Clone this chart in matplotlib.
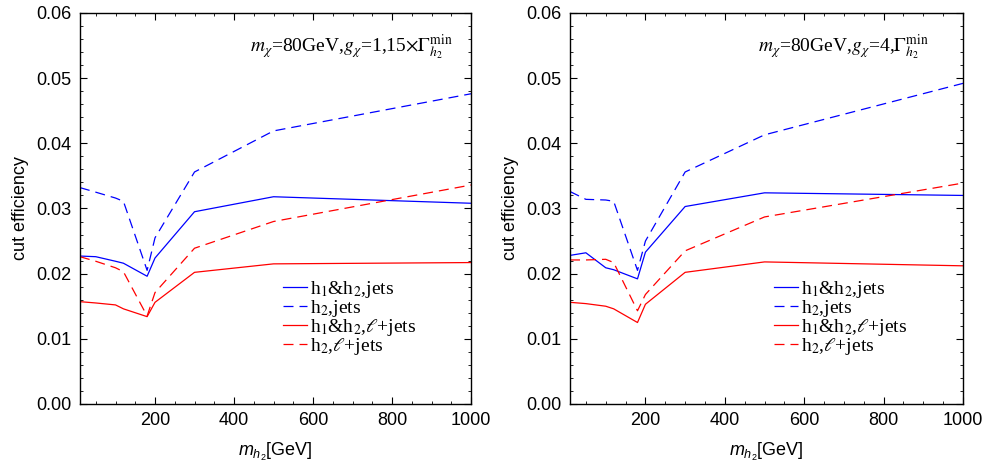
"""Cut efficiency vs m_h2 for two coupling choices."""

import matplotlib
matplotlib.use("Agg")
import matplotlib.pyplot as plt
from matplotlib.font_manager import FontProperties
from matplotlib.ticker import MultipleLocator, FormatStrFormatter

plt.rcParams["font.family"] = ["Liberation Sans", "DejaVu Sans"]
plt.rcParams["mathtext.fontset"] = "custom"
plt.rcParams["mathtext.rm"] = "Liberation Sans"
plt.rcParams["mathtext.it"] = "Liberation Sans:italic"

mass = [10, 50, 100, 120, 180, 200, 300, 500, 1000]

# left panel: g_chi = 1, 15 x Gamma_min
left_h1h2_jets = [0.0227, 0.0226, 0.0219, 0.0216, 0.0196, 0.0224, 0.0295, 0.0318, 0.0308]
left_h2_jets = [0.0332, 0.0325, 0.0316, 0.0311, 0.0205, 0.0255, 0.0356, 0.0419, 0.0476]
left_h1h2_lep = [0.0157, 0.0155, 0.0152, 0.0146, 0.0134, 0.0156, 0.0202, 0.0215, 0.0217]
left_h2_lep = [0.0226, 0.0219, 0.0209, 0.0203, 0.0135, 0.0171, 0.0239, 0.0280, 0.0336]

# right panel: g_chi = 4, Gamma_min
right_h1h2_jets = [0.0228, 0.0232, 0.0209, 0.0206, 0.0192, 0.0233, 0.0303, 0.0324, 0.0320]
right_h2_jets = [0.0326, 0.0314, 0.0313, 0.0311, 0.0205, 0.0250, 0.0356, 0.0413, 0.0492]
right_h1h2_lep = [0.0156, 0.0154, 0.0150, 0.0146, 0.0125, 0.0153, 0.0202, 0.0218, 0.0212]
right_h2_lep = [0.0221, 0.0221, 0.0222, 0.0217, 0.0143, 0.0168, 0.0235, 0.0287, 0.0339]

labels = [
    r"h$_1$&h$_2$,jets",
    r"h$_2$,jets",
    r"h$_1$&h$_2$,$\ell$+jets",
    r"h$_2$,$\ell$+jets",
]
titles = [
    r"$m_\chi$=80GeV,$g_\chi$=1,15$\times\Gamma_{h_2}^{\mathrm{min}}$",
    r"$m_\chi$=80GeV,$g_\chi$=4,$\Gamma_{h_2}^{\mathrm{min}}$",
]

fig = plt.figure(figsize=(9.86, 4.68), dpi=100)
ax_left = fig.add_axes([0.0811, 0.1368, 0.3966, 0.8355])
ax_right = fig.add_axes([0.5781, 0.1368, 0.3986, 0.8355])

panels = [
    (ax_left, [left_h1h2_jets, left_h2_jets, left_h1h2_lep, left_h2_lep], titles[0], 0.435),
    (ax_right, [right_h1h2_jets, right_h2_jets, right_h1h2_lep, right_h2_lep], titles[1], 0.478),
]
styles = [("blue", "-"), ("blue", "--"), ("red", "-"), ("red", "--")]

serif_props = FontProperties(family="Liberation Serif", size=14, math_fontfamily="stix")

for ax, series, title, title_x in panels:
    for values, (color, ls), label in zip(series, styles, labels):
        line, = ax.plot(mass, values, color=color, linestyle=ls, linewidth=0.9, label=label)
        if ls == "--":
            line.set_dashes((8, 4.8))
    ax.set_xlim(10, 1000)
    ax.set_ylim(0, 0.06)
    ax.xaxis.set_major_locator(MultipleLocator(200))
    ax.xaxis.set_minor_locator(MultipleLocator(50))
    ax.yaxis.set_major_locator(MultipleLocator(0.01))
    ax.yaxis.set_minor_locator(MultipleLocator(0.002))
    ax.yaxis.set_major_formatter(FormatStrFormatter("%.2f"))
    ax.tick_params(which="both", direction="in", top=True, right=True, labelsize=13, pad=6)
    ax.tick_params(which="major", length=5, width=0.8)
    ax.tick_params(which="minor", length=2.5, width=0.6)
    for spine in ax.spines.values():
        spine.set_linewidth(1.0)
    ax.set_ylabel("cut efficiency", fontsize=13, labelpad=5)
    ax.set_xlabel(r"$m_{h_2}$[GeV]", fontsize=13, labelpad=8)
    ax.text(title_x, 0.913, title, transform=ax.transAxes, fontproperties=serif_props,
            ha="left", va="center")
    ax.legend(loc="upper left", bbox_to_anchor=(0.495, 0.345), frameon=False, prop=serif_props,
              handlelength=1.2, handletextpad=0.15, labelspacing=-0.1, borderpad=0)

fig.savefig("out.png", dpi=100)
